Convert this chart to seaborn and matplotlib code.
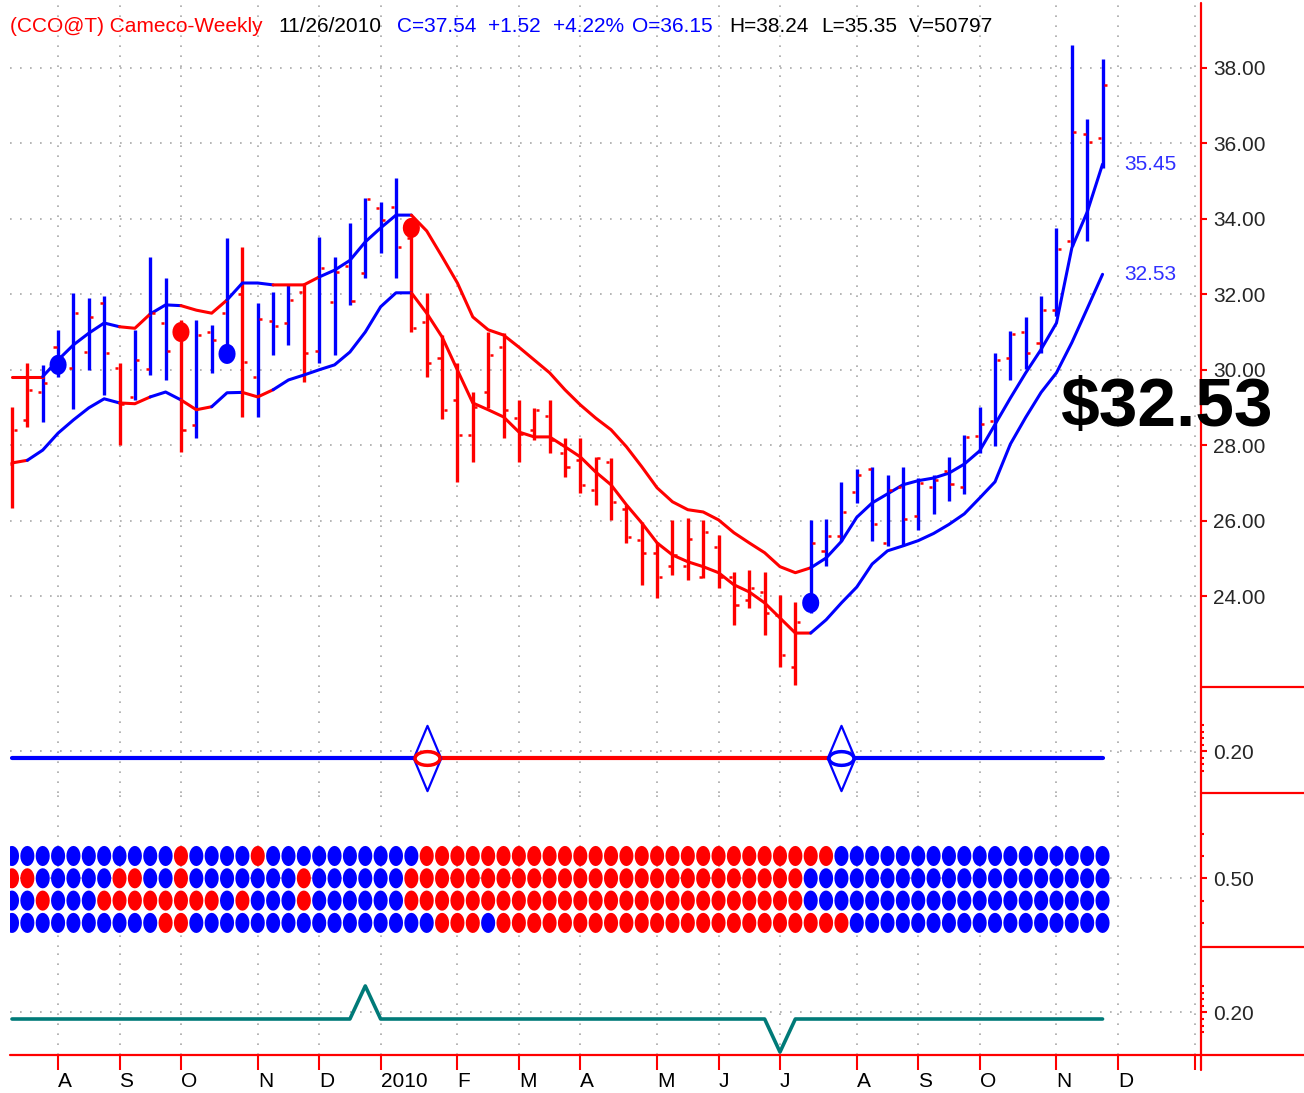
import numpy as np
import pandas as pd
import seaborn as sns
import matplotlib
matplotlib.use('Agg')
import matplotlib.pyplot as plt
from matplotlib.path import Path
from matplotlib.lines import Line2D

# weekly bars, index 0 = 17 Jul 2009 ... index 71 = 26 Nov 2010
highs = [29.00, 30.18, 30.13, 31.06, 32.04, 31.90, 31.96, 30.18, 31.06, 33.00,
         32.43, 31.32, 31.32, 31.19, 33.49, 33.26, 31.77, 32.06, 32.25, 32.30,
         33.52, 33.00, 33.89, 34.55, 34.45, 35.08, 33.89, 32.04, 30.92, 30.18,
         29.41, 31.00, 30.97, 29.20, 28.99, 29.20, 28.19, 28.19, 27.69, 27.66,
         26.42, 25.97, 25.44, 26.02, 26.07, 26.02, 25.62, 24.64, 24.70, 24.64,
         24.03, 23.85, 26.02, 26.05, 27.03, 27.37, 27.41, 27.20, 27.41, 27.13,
         27.22, 27.70, 28.27, 29.02, 30.44, 31.03, 31.39, 31.96, 33.76, 38.60,
         36.65, 38.24]
lows = [26.34, 28.49, 28.62, 29.81, 28.96, 30.00, 29.33, 28.00, 29.20, 29.86,
        29.73, 27.82, 28.19, 29.92, 30.26, 28.75, 28.75, 30.39, 30.66, 29.68,
        30.18, 30.39, 31.72, 32.43, 33.10, 32.43, 31.00, 29.81, 28.70, 27.03,
        27.56, 28.99, 28.19, 27.56, 28.14, 27.80, 27.16, 26.74, 26.42, 26.02,
        25.41, 24.30, 23.95, 24.56, 24.43, 24.48, 24.22, 23.24, 23.69, 22.97,
        22.12, 21.65, 23.56, 24.80, 25.46, 26.47, 25.47, 25.33, 25.33, 25.76,
        26.18, 26.52, 26.70, 27.80, 27.98, 29.73, 30.02, 30.44, 31.43, 33.28,
        33.42, 35.35]
opens = [27.50, 28.67, 29.42, 30.60, 30.05, 30.48, 31.77, 30.05, 29.28, 30.02,
         31.24, 30.90, 28.53, 31.00, 31.50, 32.00, 29.81, 31.30, 31.24, 32.06,
         30.50, 31.80, 32.75, 32.56, 34.30, 34.32, 33.50, 31.27, 30.31, 29.20,
         28.27, 29.41, 30.60, 28.72, 28.41, 28.78, 27.80, 27.60, 26.82, 27.56,
         26.30, 25.49, 25.15, 24.80, 24.80, 24.51, 25.30, 24.50, 23.90, 24.10,
         23.50, 22.12, 23.80, 25.20, 25.60, 26.75, 27.37, 25.42, 26.90, 26.13,
         26.90, 27.32, 26.90, 28.24, 28.64, 30.30, 31.00, 30.72, 31.59, 33.42,
         36.26, 36.15]
closes = [28.40, 29.47, 29.65, 30.30, 31.50, 31.40, 30.44, 29.10, 30.26, 31.50,
          30.50, 28.40, 30.92, 30.79, 30.60, 30.20, 31.35, 31.16, 31.85, 30.45,
          32.70, 32.60, 31.82, 34.53, 33.97, 33.26, 31.10, 30.18, 28.94, 28.27,
          29.00, 30.39, 28.94, 28.30, 28.94, 28.14, 27.43, 26.95, 27.66, 26.50,
          25.57, 25.15, 24.50, 25.09, 25.52, 25.70, 24.51, 23.77, 24.22, 23.56,
          22.44, 23.30, 25.41, 25.60, 26.23, 27.21, 25.90, 26.80, 26.05, 27.00,
          27.08, 26.97, 28.22, 28.55, 30.26, 30.96, 30.44, 31.59, 33.21, 36.31,
          36.05, 37.54]
bar_trend_runs = [('r', 2), ('b', 5), ('r', 1), ('b', 3), ('r', 1), ('b', 3), ('r', 1),
                  ('b', 3), ('r', 1), ('b', 6), ('r', 26), ('b', 20)]

upper_band = [29.82, 29.82, 29.82, 30.26, 30.66, 30.97, 31.24, 31.14, 31.10, 31.48,
              31.72, 31.70, 31.58, 31.50, 31.85, 32.30, 32.30, 32.25, 32.25, 32.25,
              32.46, 32.64, 32.90, 33.39, 33.76, 34.10, 34.10, 33.68, 33.00, 32.30,
              31.40, 31.06, 30.92, 30.60, 30.26, 29.92, 29.47, 29.07, 28.72, 28.41,
              27.96, 27.43, 26.87, 26.50, 26.29, 26.23, 26.02, 25.68, 25.41, 25.15,
              24.78, 24.62, 24.75, 25.01, 25.45, 26.09, 26.47, 26.71, 26.95, 27.06,
              27.13, 27.26, 27.50, 27.85, 28.55, 29.25, 29.92, 30.54, 31.24, 33.23,
              34.18, 35.45]
lower_band = [27.53, 27.60, 27.87, 28.32, 28.67, 28.99, 29.23, 29.12, 29.10, 29.28,
              29.41, 29.20, 28.94, 29.02, 29.39, 29.40, 29.28, 29.47, 29.73, 29.86,
              30.00, 30.13, 30.47, 31.00, 31.67, 32.04, 32.04, 31.50, 30.87, 29.99,
              29.12, 28.94, 28.75, 28.35, 28.22, 28.22, 27.96, 27.69, 27.29, 26.95,
              26.42, 25.94, 25.41, 25.09, 24.91, 24.78, 24.62, 24.30, 24.11, 23.82,
              23.42, 23.02, 23.02, 23.37, 23.82, 24.24, 24.85, 25.20, 25.33, 25.47,
              25.66, 25.90, 26.18, 26.60, 27.03, 28.03, 28.74, 29.40, 29.92, 30.72,
              31.62, 32.53]
# colour of each segment between week j and j+1
upper_trend_runs = [('r', 2), ('b', 5), ('r', 2), ('b', 2), ('r', 3), ('b', 3), ('r', 3),
                    ('b', 6), ('r', 26), ('b', 19)]
lower_trend_runs = [('r', 1), ('b', 6), ('r', 2), ('b', 2), ('r', 2), ('b', 2), ('r', 2),
                    ('b', 9), ('r', 26), ('b', 19)]

dot_weeks = [3, 11, 14, 26, 52]
dot_prices = [30.13, 31.00, 30.42, 33.76, 23.82]
dot_trend = ['b', 'r', 'b', 'r', 'b']

# panel 2: trend switch line
switch_weeks = [27, 54]
switch_trend = ['r', 'b']
signal_points = [0, 27, 54, 71]
signal_trend = ['b', 'r', 'b']

# panel 3: four rows of trend dots
matrix_levels = [0.75, 0.50, 0.25, 0.00]
matrix_runs = [
    [('b', 11), ('r', 1), ('b', 4), ('r', 1), ('b', 10), ('r', 27), ('b', 18)],
    [('r', 2), ('b', 5), ('r', 2), ('b', 2), ('r', 1), ('b', 7), ('r', 1), ('b', 6), ('r', 26), ('b', 20)],
    [('b', 2), ('r', 1), ('b', 3), ('r', 8), ('b', 1), ('r', 1), ('b', 3), ('r', 1), ('b', 6), ('r', 26), ('b', 20)],
    [('b', 10), ('r', 2), ('b', 16), ('r', 3), ('b', 1), ('r', 23), ('b', 17)],
]

# panel 4: oscillator
osc_weeks = [0, 22, 23, 24, 49, 50, 51, 71]
osc_values = [0.0, 0.0, 1.0, 0.0, 0.0, -1.0, 0.0, 0.0]

month_ticks = [3, 7, 11, 16, 20, 24, 29, 33, 37, 42, 46, 50, 55, 59, 63, 68, 72, 77]
month_labels = ['A', 'S', 'O', 'N', 'D', '2010', 'F', 'M', 'A', 'M', 'J', 'J',
                'A', 'S', 'O', 'N', 'D', '']
price_ticks = [24, 26, 28, 30, 32, 34, 36, 38]

title_parts = [(10, '(CCO@T) Cameco-Weekly', 'r'), (278, '11/26/2010', 'k'),
               (397, 'C=37.54', 'b'), (488, '+1.52', 'b'), (553, '+4.22%', 'b'),
               (632, 'O=36.15', 'b'), (729, 'H=38.24', 'k'), (821, 'L=35.35', 'k'),
               (909, 'V=50797', 'k')]

COL = {'r': '#ff0000', 'b': '#0000ff', 'k': '#000000'}
W, H = 1304, 1093
FS = 15


def expand(runs):
    return ''.join(c * n for c, n in runs)


def px_axes(fig, left, top, right, bottom):
    return fig.add_axes([left / W, 1 - bottom / H, (right - left) / W, (bottom - top) / H])


def plot_runs(ax, xs, ys, seg_colors, lw):
    start = 0
    for j in range(1, len(seg_colors) + 1):
        if j == len(seg_colors) or seg_colors[j] != seg_colors[start]:
            ax.plot(xs[start:j + 1], ys[start:j + 1], color=COL[seg_colors[start]],
                    lw=lw, solid_capstyle='round', zorder=3)
            start = j


sns.set_style('white')
plt.rcParams['font.family'] = ['Liberation Sans', 'DejaVu Sans']

weeks = np.arange(len(highs))
bar_trend = expand(bar_trend_runs)
upper_trend = expand(upper_trend_runs)
lower_trend = expand(lower_trend_runs)

fig = plt.figure(figsize=(W / 100, H / 100), dpi=100)
ax1 = px_axes(fig, 10, 5, 1201, 687)
ax2 = px_axes(fig, 10, 687, 1201, 793)
ax3 = px_axes(fig, 10, 793, 1201, 947)
ax4 = px_axes(fig, 10, 947, 1201, 1055)
axes = [ax1, ax2, ax3, ax4]

grid_kw = dict(color='#a8a8a8', linestyle=(0, (1, 5)), lw=1.2)
for ax in axes:
    ax.set_xlim(-0.13, 77.41)
    for s in ax.spines.values():
        s.set_visible(False)
    ax.set_xticks(month_ticks)
    ax.set_axisbelow(True)
    ax.grid(True, which='major', **grid_kw)
    ax.yaxis.set_ticks_position('right')
    ax.tick_params(axis='y', which='major', right=True, left=False, labelright=True,
                   labelleft=False, color='red', length=4.5, width=1.5, labelsize=FS, pad=4)
    ax.tick_params(axis='y', which='minor', right=True, left=False, color='red',
                   length=2.5, width=1.5)
    if ax is not ax4:
        ax.tick_params(axis='x', length=0, labelbottom=False)

# price panel
ax1.set_ylim(21.59, 39.67)
ax1.set_yticks(price_ticks)
ax1.set_yticklabels([f'{v:.2f}' for v in price_ticks])
bar_colors = [COL[c] for c in bar_trend]
ax1.vlines(weeks, lows, highs, colors=bar_colors, lw=2.4, zorder=2)
ax1.hlines(opens, weeks - 0.3, weeks - 0.1, colors='red', lw=1.8, zorder=4)
ax1.hlines(closes, weeks + 0.1, weeks + 0.3, colors='red', lw=1.8, zorder=4)
plot_runs(ax1, weeks, upper_band, upper_trend, 2.2)
plot_runs(ax1, weeks, lower_band, lower_trend, 2.2)

t = np.linspace(0, 2 * np.pi, 25)
tall_oval = Path(np.column_stack([0.85 * np.cos(t), np.sin(t)]), closed=True)
ax1.scatter(dot_weeks, dot_prices, s=14.5 ** 2, marker=tall_oval,
            c=[COL[c] for c in dot_trend], linewidths=0, zorder=5)
for v in (upper_band[-1], lower_band[-1]):
    ax1.text(72.4, v, f'{v:.2f}', color='#3030ff', fontsize=FS, va='center', ha='left')

# trend switch panel
ax2.set_ylim(-1.08, 2.18)
ax2.set_yticks([0.2])
ax2.set_yticklabels(['0.20'])
ax2.set_yticks([-0.4, -0.2, 0.0, 0.4, 0.6, 0.8, 1.0], minor=True)
for k, c in enumerate(signal_trend):
    sns.lineplot(x=signal_points[k:k + 2], y=[0, 0], ax=ax2, color=COL[c], lw=3,
                 zorder=3)
diamond = Path([(0, 1), (0.42, 0), (0, -1), (-0.42, 0), (0, 1)], closed=True)
wide_oval = Path(np.column_stack([np.cos(t), 0.55 * np.sin(t)]), closed=True)
for wk, c in zip(switch_weeks, switch_trend):
    ax2.plot(wk, 0, marker=diamond, ms=47, mfc='none', mec=COL['b'], mew=1.6, zorder=5)
    ax2.plot(wk, 0, marker=wide_oval, ms=18, mfc='white', mec=COL[c], mew=2.5, zorder=6)

# dot matrix panel
rows = []
for lvl, runs in zip(matrix_levels, matrix_runs):
    for wk, c in enumerate(expand(runs)):
        rows.append({'week': wk, 'level': lvl, 'trend': c})
dots = pd.DataFrame(rows)
ax3.set_ylim(-0.27, 1.456)
sns.scatterplot(data=dots, x='week', y='level', hue='trend', palette=COL,
                marker=Path(np.column_stack([0.7 * np.cos(t), np.sin(t)]), closed=True),
                s=14.5 ** 2, linewidth=0, legend=False, ax=ax3, zorder=3)
ax3.set_yticks([0.5])
ax3.set_yticklabels(['0.50'])
ax3.set_yticks([0.0, 0.25, 0.75, 1.0], minor=True)

# oscillator panel
ax4.set_ylim(-1.09, 2.18)
sns.lineplot(x=osc_weeks, y=osc_values, ax=ax4, color='#007a78', lw=2.6, zorder=3)
ax4.set_yticks([0.2])
ax4.set_yticklabels(['0.20'])
ax4.set_yticks([-0.4, -0.2, 0.0, 0.4, 0.6, 0.8, 1.0], minor=True)
ax4.set_xticklabels(month_labels, ha='left', fontsize=FS)
ax4.tick_params(axis='x', which='major', bottom=True, color='red', length=11,
                width=1.5, pad=1, labelcolor='black')

for ax in axes:
    ax.set_xlabel('')
    ax.set_ylabel('')


def fig_line(x0, y0, x1, y1):
    fig.add_artist(Line2D([x0 / W, x1 / W], [1 - y0 / H, 1 - y1 / H],
                          transform=fig.transFigure, color='red', lw=1.6))


fig_line(1201, 3, 1201, 1070)
for y in (687, 793, 947):
    fig_line(1201, y, 1304, y)
fig_line(10, 1055, 1304, 1055)

for x, txt, c in title_parts:
    fig.text(x / W, 1 - 27 / H, txt, color=COL[c], fontsize=FS, va='center', ha='left')

fig.text(1166 / W, 1 - 408 / H, '$32.53', color='black', fontsize=50,
         fontweight='bold', ha='center', va='center', zorder=10)

fig.savefig('out.png', dpi=100)
